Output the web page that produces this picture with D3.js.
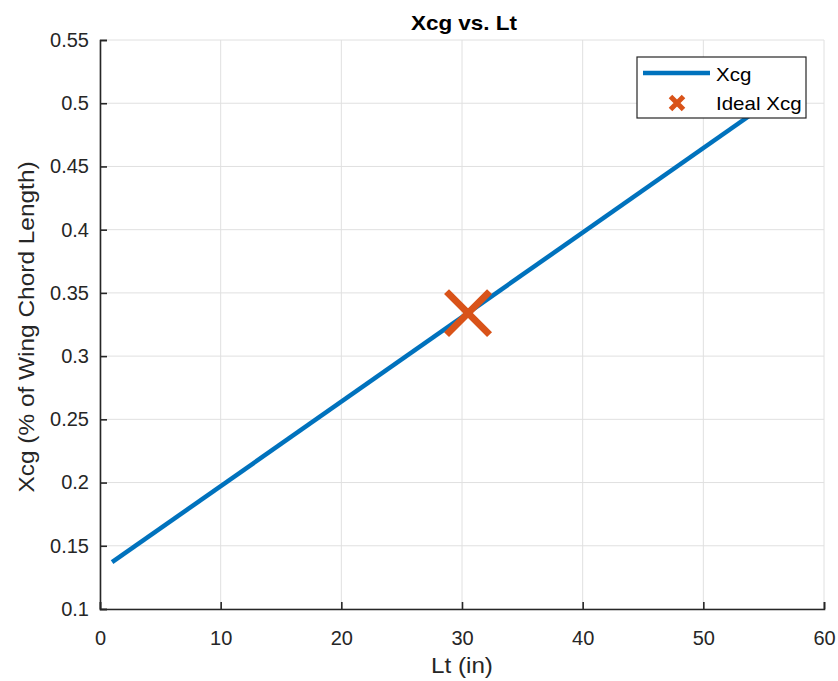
<!DOCTYPE html>
<html><head><meta charset="utf-8">
<script src="https://cdn.jsdelivr.net/npm/d3@7"></script>
<style>body{margin:0;background:#fff;} text{font-family:"Liberation Sans",Arial,sans-serif;}</style>
</head><body>
<svg id="c" width="838" height="681"></svg>
<script>
const ltValues = [1, 55];
const xcgValues = [0.137, 0.498];
const idealLt = [30.5];
const idealXcg = [0.334];
const xTicks = [0,10,20,30,40,50,60];
const yTicks = [0.1,0.15,0.2,0.25,0.3,0.35,0.4,0.45,0.5,0.55];
const legendLabels = ["Xcg", "Ideal Xcg"];

const svg = d3.select("#c");
const m = {l:100, r:14, t:40, b:72};
const W = 838, H = 681;
const x = d3.scaleLinear().domain([0,60]).range([m.l, W-m.r]);
const y = d3.scaleLinear().domain([0.1,0.55]).range([H-m.b, m.t]);
const axisCol = "#262626";

function stretch(sel, k){
  sel.each(function(){
    const n = this.getComputedTextLength();
    d3.select(this).attr("textLength", n*k).attr("lengthAdjust","spacingAndGlyphs");
  });
}

// grid
svg.append("g").selectAll("line").data(xTicks).join("line")
  .attr("x1",d=>x(d)).attr("x2",d=>x(d)).attr("y1",y(0.1)).attr("y2",y(0.55))
  .attr("stroke","#e0e0e0").attr("stroke-width",1);
svg.append("g").selectAll("line").data(yTicks).join("line")
  .attr("y1",d=>y(d)).attr("y2",d=>y(d)).attr("x1",x(0)).attr("x2",x(60))
  .attr("stroke","#e0e0e0").attr("stroke-width",1);

// axes
const xa = svg.append("g").attr("transform",`translate(0,${y(0.1)})`)
  .call(d3.axisBottom(x).tickValues(xTicks).tickSize(-7).tickPadding(22).tickFormat(d3.format("d")));
const ya = svg.append("g").attr("transform",`translate(${x(0)},0)`)
  .call(d3.axisLeft(y).tickValues(yTicks).tickSize(-7).tickPadding(11).tickFormat(d=>String(+d.toFixed(2))));
[xa,ya].forEach(a=>{
  a.select(".domain").attr("stroke",axisCol).attr("stroke-width",1.6);
  a.selectAll(".tick line").attr("stroke",axisCol).attr("stroke-width",1.6);
  a.selectAll(".tick text").attr("fill",axisCol).style("font-size","20px").style("font-family","Liberation Sans, Arial, sans-serif");
});

// line
const pts = ltValues.map((v,i)=>[v,xcgValues[i]]);
svg.append("path").datum(pts)
  .attr("d", d3.line().x(d=>x(d[0])).y(d=>y(d[1])))
  .attr("fill","none").attr("stroke","#0072BD").attr("stroke-width",4.5);

// marker X
function xMark(g, cx, cy, s, w){
  g.append("path").attr("d",`M${cx-s},${cy-s}L${cx+s},${cy+s}M${cx-s},${cy+s}L${cx+s},${cy-s}`)
   .attr("stroke","#D95319").attr("stroke-width",w).attr("fill","none");
}
idealLt.forEach((v,i)=>xMark(svg, x(v), y(idealXcg[i]), 21.5, 7));

// legend
const lg = svg.append("g");
lg.append("rect").attr("x",637).attr("y",57).attr("width",169).attr("height",61)
  .attr("fill","#fff").attr("stroke",axisCol).attr("stroke-width",1.2);
lg.append("line").attr("x1",643).attr("x2",710).attr("y1",73).attr("y2",73)
  .attr("stroke","#0072BD").attr("stroke-width",4.5);
xMark(lg, 677, 103, 6.5, 5);
const lt = lg.selectAll("text.l").data(legendLabels).join("text")
  .attr("x",716).attr("y",(d,i)=>81+i*29)
  .style("font-size","19px").attr("fill","#000").text(d=>d);
stretch(lt, 1.08);

// title and labels
const tt = svg.append("text").attr("x",464).attr("y",30).attr("text-anchor","middle")
  .style("font-size","21px").style("font-weight","bold").attr("fill","#000").text("Xcg vs. Lt");
stretch(tt, 1.07);
const xl = svg.append("text").attr("x",462).attr("y",673).attr("text-anchor","middle")
  .style("font-size","22px").attr("fill",axisCol).text("Lt (in)");
stretch(xl, 1.1);
const yl = svg.append("text").attr("transform","translate(34,327) rotate(-90)").attr("text-anchor","middle")
  .style("font-size","22px").attr("fill",axisCol).text("Xcg (% of Wing Chord Length)");
stretch(yl, 1.11);
</script>
</body></html>
